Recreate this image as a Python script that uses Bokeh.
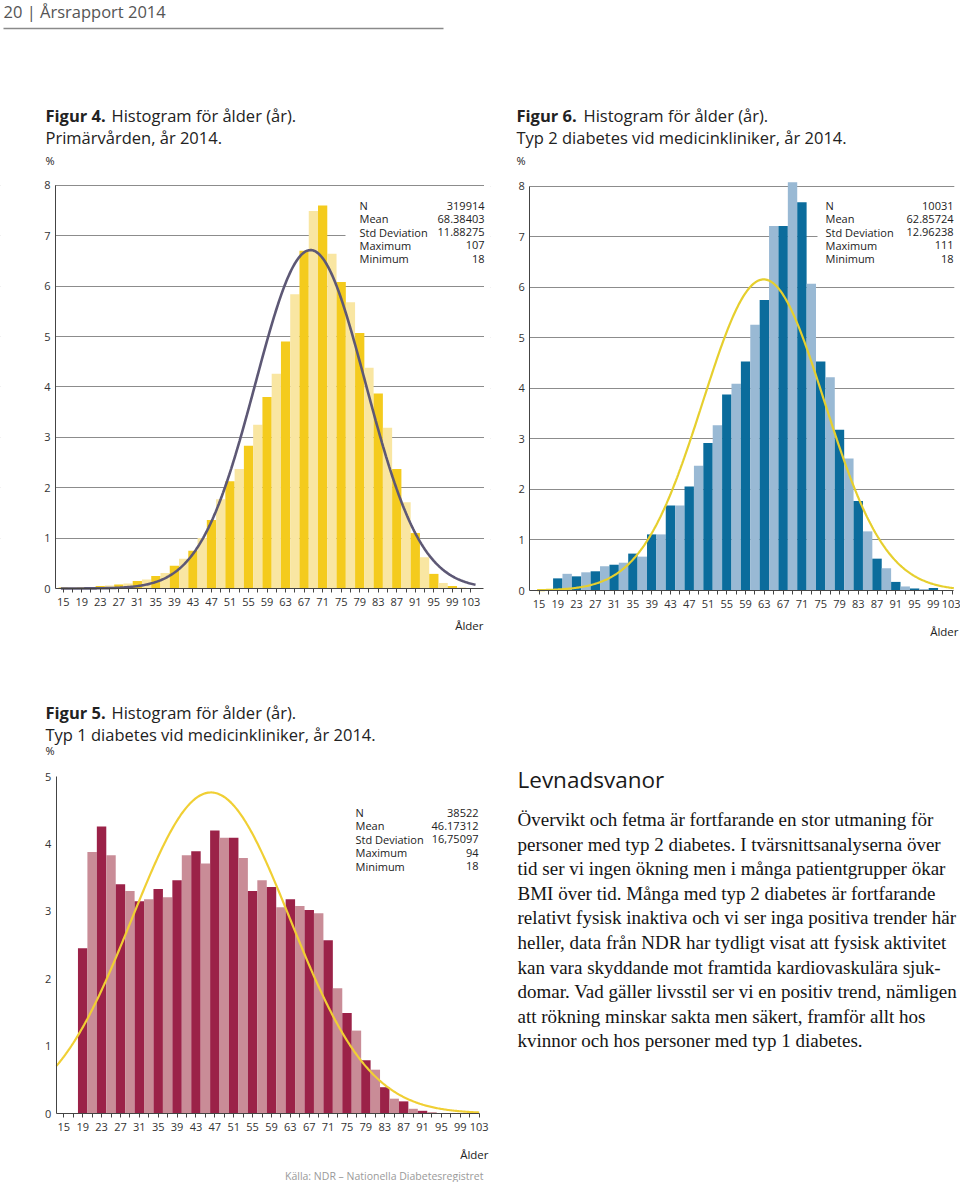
import numpy as np
from bokeh.plotting import figure
from bokeh.models import Range1d, Label, BoxAnnotation, FixedTicker, ColumnDataSource
from bokeh.layouts import column, row
from bokeh.embed import file_html
from bokeh.resources import INLINE
from bokeh.core.properties import value

# ---------------- data ----------------
ages = list(range(15, 104, 2))  # bin centres, 2-year bins
x_ticks = list(range(15, 104, 4))
x_minor = list(range(17, 102, 4))

# Figur 4: Primärvården (%)
fig4_pct = [0.02, 0.02, 0.02, 0.03, 0.05, 0.06, 0.08, 0.10, 0.15, 0.18,
            0.25, 0.31, 0.45, 0.59, 0.75, 1.00, 1.36, 1.77, 2.13, 2.37,
            2.83, 3.25, 3.80, 4.26, 4.90, 5.84, 6.70, 7.49, 7.60, 6.64,
            6.08, 5.68, 5.07, 4.38, 3.87, 3.19, 2.37, 1.71, 1.10, 0.62,
            0.29, 0.11, 0.05, 0.02, 0.01]
# Figur 6: Typ 2 diabetes, medicinkliniker (%)
fig6_pct = [0.0, 0.0, 0.24, 0.33, 0.28, 0.36, 0.38, 0.48, 0.51, 0.55,
            0.73, 0.67, 1.11, 1.11, 1.68, 1.68, 2.06, 2.47, 2.92, 3.27,
            3.88, 4.09, 4.53, 5.26, 5.75, 7.21, 7.21, 8.08, 7.68, 6.07,
            4.53, 4.22, 3.18, 2.61, 1.77, 1.17, 0.63, 0.44, 0.17, 0.08,
            0.04, 0.03, 0.05, 0.01, 0.0]
# Figur 5: Typ 1 diabetes, medicinkliniker (%)
fig5_pct = [0.0, 0.0, 2.45, 3.88, 4.26, 3.83, 3.40, 3.30, 3.15, 3.18,
            3.33, 3.21, 3.46, 3.83, 3.89, 3.71, 4.20, 4.09, 4.09, 3.79,
            3.30, 3.46, 3.36, 3.06, 3.18, 3.08, 3.02, 2.97, 2.57, 1.86,
            1.49, 1.23, 0.79, 0.65, 0.39, 0.22, 0.18, 0.07, 0.04, 0.02,
            0.0, 0.0, 0.0, 0.0, 0.0]

stat_names = ["N", "Mean", "Std Deviation", "Maximum", "Minimum"]
fig4_stats = ["319914", "68.38403", "11.88275", "107", "18"]
fig6_stats = ["10031", "62.85724", "12.96238", "111", "18"]
fig5_stats = ["38522", "46.17312", "16,75097", "94", "18"]
fig4_mean, fig4_sd = 68.38403, 11.88275
fig6_mean, fig6_sd = 62.85724, 12.96238
fig5_mean, fig5_sd = 46.17312, 16.75097

paragraph = [
    "Övervikt och fetma är fortfarande en stor utmaning för",
    "personer med typ 2 diabetes. I tvärsnittsanalyserna över",
    "tid ser vi ingen ökning men i många patientgrupper ökar",
    "BMI över tid. Många med typ 2 diabetes är fortfarande",
    "relativt fysisk inaktiva och vi ser inga positiva trender här",
    "heller, data från NDR har tydligt visat att fysisk aktivitet",
    "kan vara skyddande mot framtida kardiovaskulära sjuk-",
    "domar. Vad gäller livsstil ser vi en positiv trend, nämligen",
    "att rökning minskar sakta men säkert, framför allt hos",
    "kvinnor och hos personer med typ 1 diabetes.",
]

SANS = "Open Sans"
SERIF = "Liberation Serif"
TXT = "#222222"


def hist(cfg, pct, dark, light, curve_color, curve_w, mean, sd, ymax, grid,
         curve_span, title, stats_vals, stats_pos, box, alder):
    axL, axR, y0, sx, sy = cfg["axL"], cfg["axR"], cfg["y0"], cfg["sx"], cfg["sy"]
    a0 = 15 - (cfg["age15"] - axL) / sx

    def dx(px):
        return a0 + (px - axL) / sx

    def dy(py):
        return (y0 - py) / sy

    fx, fy, w, h = cfg["fx"], cfg["fy"], cfg["w"], cfg["h"]
    p = figure(width=w, height=h,
               x_range=Range1d(dx(fx), dx(fx + w)), y_range=Range1d(dy(fy + h), dy(fy)),
               toolbar_location=None, output_backend="svg", min_border=0)
    p.outline_line_color = None
    p.background_fill_color = "white"
    p.border_fill_color = "white"

    # axes placed at the data origin, limited to the plotted span
    p.xaxis.fixed_location = 0
    p.xaxis.bounds = (dx(axL), dx(axR))
    p.yaxis.fixed_location = dx(axL)
    p.yaxis.bounds = (0, ymax)
    p.xgrid.visible = False
    if grid:
        p.ygrid.ticker = FixedTicker(ticks=list(range(1, ymax + 1)))
        p.ygrid.grid_line_color = "#8c8c8c"
        p.ygrid.grid_line_width = 1
    else:
        p.ygrid.visible = False
    p.yaxis.ticker = FixedTicker(ticks=list(range(0, ymax + 1)))
    p.xaxis.ticker = FixedTicker(ticks=x_ticks, minor_ticks=x_minor)
    for ax in (p.xaxis[0], p.yaxis[0]):
        ax.axis_line_color = "#444444"
        ax.axis_line_width = 1
        ax.major_tick_line_color = "#444444"
        ax.minor_tick_line_color = "#444444"
        ax.major_label_text_font = SANS
        ax.major_label_text_font_size = "11px"
        ax.major_label_text_color = "#333333"
    p.yaxis.major_tick_out = 0
    p.yaxis.major_tick_in = 0
    p.yaxis.minor_tick_out = 0
    p.yaxis.minor_tick_in = 0
    p.yaxis.major_label_standoff = 5
    p.xaxis.major_tick_out = 4
    p.xaxis.major_tick_in = 0
    p.xaxis.minor_tick_out = 4
    p.xaxis.minor_tick_in = 0
    p.xaxis.major_label_standoff = 5

    # keep grid lines between the axis ends
    if grid:
        p.add_layout(BoxAnnotation(left=dx(fx - 10), right=dx(axL - 0.5), bottom=-0.2,
                                   top=ymax + 0.3, fill_color="white", fill_alpha=1.0,
                                   line_color=None, level="underlay"))
        if axR + 0.5 < fx + w:
            p.add_layout(BoxAnnotation(left=dx(axR + 0.5), right=dx(fx + w + 10), bottom=-0.2,
                                       top=ymax + 0.3, fill_color="white", fill_alpha=1.0,
                                       line_color=None, level="underlay"))
    # stats box background (hides grid line)
    if box is not None:
        p.add_layout(BoxAnnotation(left=dx(box[0]), right=dx(box[1]),
                                   top=dy(box[2]), bottom=dy(box[3]),
                                   fill_color="white", fill_alpha=1.0,
                                   line_color=None, level="underlay"))

    # bars
    colors = [dark if (a - 15) % 4 == 0 else light for a in ages]
    src = ColumnDataSource(dict(x=ages, top=pct, color=colors))
    p.vbar(x="x", top="top", bottom=0, width=2, source=src,
           fill_color="color", line_color=None)

    # fitted normal curve (from the stated mean / std deviation, 2-year bins)
    xs = np.linspace(curve_span[0], curve_span[1], 400)
    ys = 200.0 / (sd * np.sqrt(2 * np.pi)) * np.exp(-0.5 * ((xs - mean) / sd) ** 2)
    p.line(xs, ys, line_color=curve_color, line_width=curve_w)

    def lab(px, py, text, size, align="left", color=TXT, style="normal", font=SANS):
        p.add_layout(Label(x=dx(px), y=dy(py), text=text, text_font=font,
                           text_font_size=size, text_align=align,
                           text_baseline="middle", text_color=color,
                           text_font_style=style))

    # titles
    t_no, t_rest, t_2, tx, ty1, ty2, ty3, rest_x = title
    lab(tx, ty1, t_no, "16.5px", style="bold")
    lab(rest_x, ty1, t_rest, "16.5px")
    lab(tx, ty2, t_2, "16.5px")
    lab(tx, ty3, "%", "11px")

    # stats
    nx, vx, s0, sdy = stats_pos
    for i, (n, v) in enumerate(zip(stat_names, stats_vals)):
        lab(nx, s0 + i * sdy, n, "11px")
        lab(vx, s0 + i * sdy, v, "11px", align="right")

    # Ålder
    lab(alder[0], alder[1], "Ålder", "11.5px", align="right")
    return p, lab, dx, dy


cfg4 = dict(fx=0, fy=0, w=490, h=660, axL=55, axR=483, y0=588,
            age15=62.7, sx=4.633, sy=50.4)
cfg6 = dict(fx=490, fy=0, w=470, h=660, axL=529.3, axR=953.3, y0=590,
            age15=538.5, sx=4.695, sy=50.54)
cfg5 = dict(fx=0, fy=660, w=500, h=522, axL=55.7, axR=479.3, y0=1113,
            age15=63.3, sx=4.72, sy=67.4)

p4, lab4, dx4, dy4 = hist(
    cfg4, fig4_pct, "#f4cb1d", "#f9e6a2", "#5d5875", 2.6,
    fig4_mean, fig4_sd, 8, True, (14.5, 104.0),
    ("Figur 4.", "Histogram för ålder (år).", "Primärvården, år 2014.",
     45, 115, 137, 160, 111),
    fig4_stats, (359, 484, 205, 13.3), (345, 483, 194, 268), (483, 625))

# page header (drawn in the first panel)
lab4(3, 11, "20 | Årsrapport 2014", "16.5px", color="#555555")
p4.add_layout(BoxAnnotation(left=dx4(3), right=dx4(443), top=dy4(27.3), bottom=dy4(28.8),
                            fill_color="#8a8a8a", fill_alpha=1.0, line_color=None))

p6, _, _, _ = hist(
    cfg6, fig6_pct, "#0b6c9c", "#99b9d4", "#e6cf2e", 2.2,
    fig6_mean, fig6_sd, 8, True, (14.6, 103.35),
    ("Figur 6.", "Histogram för ålder (år).",
     "Typ 2 diabetes vid medicinkliniker, år 2014.", 516, 115, 137, 160, 583),
    fig6_stats, (825, 953, 205, 13.3), (817, 960, 194, 268), (958, 631))

p5, lab5, _, _ = hist(
    cfg5, fig5_pct, "#9b2248", "#c98c97", "#f0cf34", 2.2,
    fig5_mean, fig5_sd, 5, False, (13.45, 103.0),
    ("Figur 5.", "Histogram för ålder (år).",
     "Typ 1 diabetes vid medicinkliniker, år 2014.", 45, 712, 734, 750, 111),
    fig5_stats, (355, 478, 812, 13.4), None, (488, 1154))
lab5(483, 1175, "Källa: NDR – Nationella Diabetesregistret", "10.5px",
     align="right", color="#9a9a9a")

# ---------------- text block ----------------
tf = figure(width=460, height=522, x_range=Range1d(500, 960), y_range=Range1d(1182, 660),
            toolbar_location=None, output_backend="svg", min_border=0,
            x_axis_location=None, y_axis_location=None)
tf.outline_line_color = None
tf.xgrid.visible = False
tf.ygrid.visible = False
tf.text(x=[517], y=[779], text=["Levnadsvanor"], text_font=value(SANS),
        text_font_size="22.5px", text_color="#1a1a1a", text_baseline="middle")
line_y = [819 + i * 24.6 for i in range(len(paragraph))]
tf.text(x=[517] * len(paragraph), y=line_y, text=paragraph, text_font=value(SERIF),
        text_font_size="19px", text_color="#141414", text_baseline="middle")

layout = column(row(p4, p6), row(p5, tf))

with open("out.html", "w") as f:
    f.write(file_html(layout, INLINE))
